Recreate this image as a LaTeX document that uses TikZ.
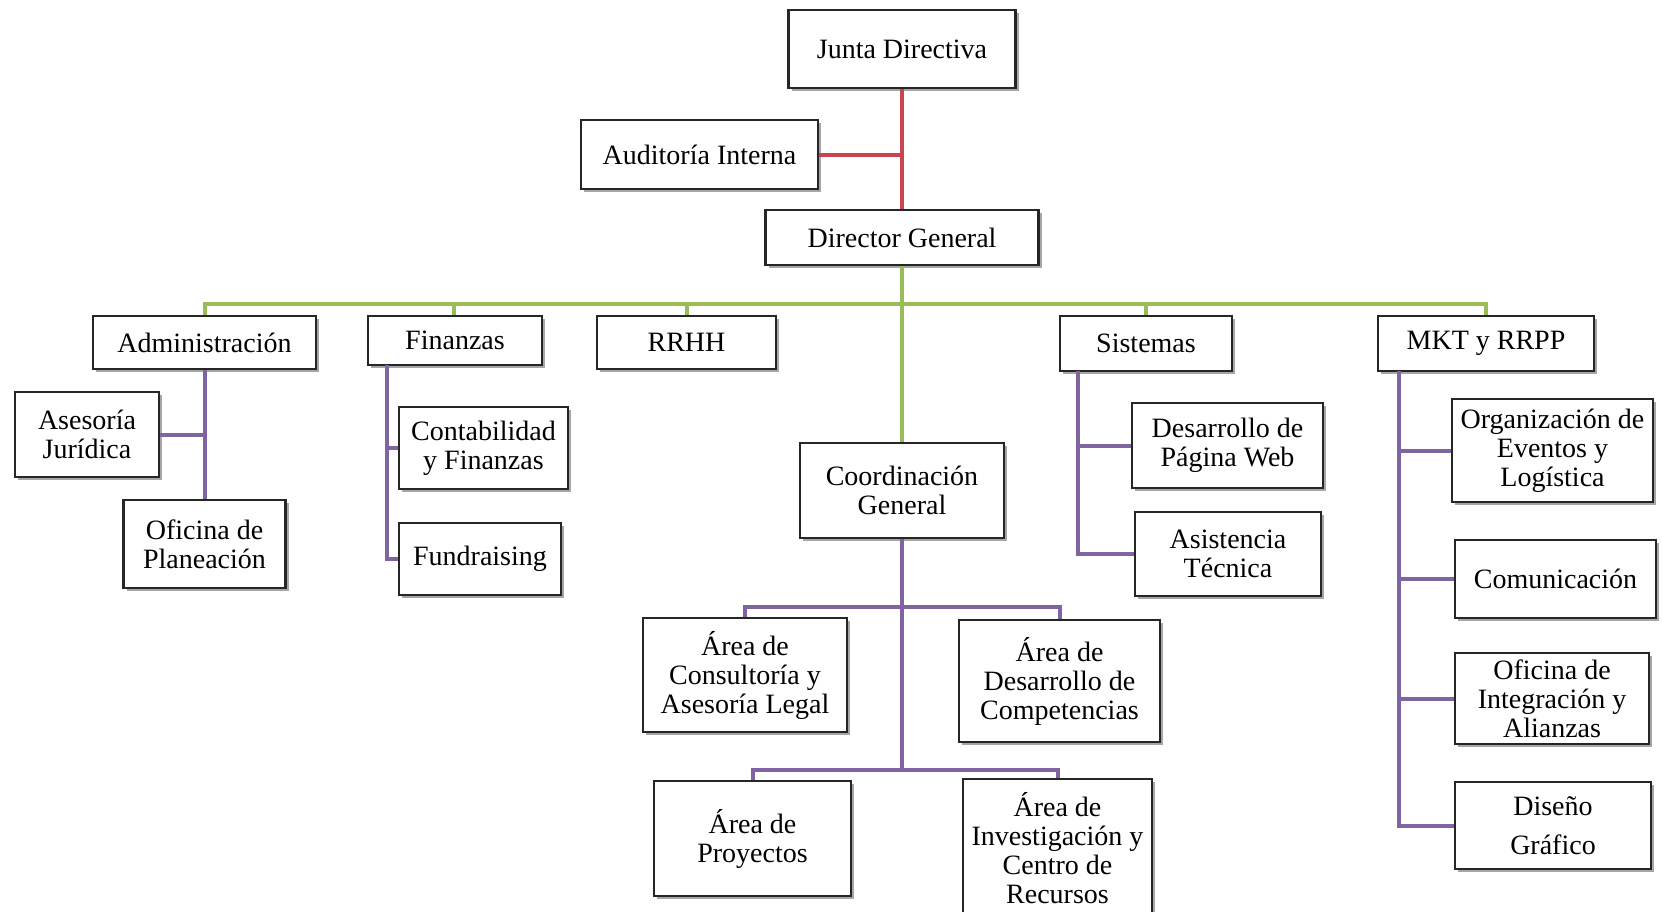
\documentclass[tikz,border=0pt]{standalone}
\usepackage{fontspec}
\setmainfont{Liberation Serif}
\usetikzlibrary{shadows}
\definecolor{rojo}{RGB}{200,70,80}
\definecolor{verde}{RGB}{155,187,89}
\definecolor{morado}{RGB}{128,100,162}
\tikzset{
	caja/.style={draw=black!85, line width=2.6pt, fill=white, align=center,
		inner sep=2pt, font=\fontsize{28}{29}\selectfont,
		drop shadow={shadow xshift=3pt, shadow yshift=-3pt, opacity=0.35, fill=black}},
	lrojo/.style={rojo, line width=4pt},
	lverde/.style={verde, line width=4pt},
	lmorado/.style={morado, line width=4pt}
}
\newcommand{\caja}[5]{\node[caja, minimum width=#4pt, minimum height=#5pt] (#1) at (#2) {#3}}
\newcommand{\rama}[2]{\draw[lmorado] (#1.west) -- (#1.west -| #2)}

\begin{document}
\begin{tikzpicture}[x=1pt, y=-1pt]
\useasboundingbox (0,0) rectangle (1662,911);
%Direction
	\caja{junta}{902,49}{Junta Directiva}{227}{78};
	\caja{audit}{699.5,154.5}{Auditoría Interna}{237}{69};
	\caja{director}{902,237.5}{Director General}{273}{55};
%Departments
	\caja{admin}{204.5,342.5}{Administración}{223}{53};
	\caja{finanzas}{455,340.5}{Finanzas}{174}{49};
	\caja{rrhh}{686.5,342.5}{RRHH}{179}{53};
	\caja{sistemas}{1146,343.5}{Sistemas}{172}{55};
	\caja{mkt}{1486,343.5}{MKT y RRPP}{216}{55};
	\caja{coord}{902,490.5}{Coordinación\\General}{204}{95};
%Units
	\caja{asesoria}{87,434.5}{Asesoría\\Jurídica}{144}{85};
	\caja{oficina}{204.5,544}{Oficina de\\Planeación}{162}{88};
	\caja{contab}{483.5,448}{Contabilidad\\y Finanzas}{169}{82};
	\caja{fundr}{480,559}{Fundraising}{162}{72};
	\caja{web}{1227.5,445.5}{Desarrollo de\\Página Web}{191}{85};
	\caja{asist}{1228,554}{Asistencia\\Técnica}{186}{84};
	\caja{eventos}{1552.5,450.5}{Organización de\\Eventos y\\Logística}{201}{103};
	\caja{comunic}{1555.5,579}{Comunicación}{201}{78};
	\caja{integr}{1552,698.5}{Oficina de\\Integración y\\Alianzas}{194}{91};
	\caja{diseno}{1553,825.5}{Diseño\\[10pt]Gráfico}{196}{87};
	\caja{consult}{745,675}{Área de\\Consultoría y\\Asesoría Legal}{204}{114};
	\caja{compet}{1059.5,681}{Área de\\Desarrollo de\\Competencias}{201}{122};
	\caja{proyec}{752.5,838.5}{Área de\\Proyectos}{197}{115};
	\caja{investig}{1057.5,848}{Área de\\Investigación y\\Centro de\\Recursos}{189}{138};
%Red links
	\draw[lrojo] (junta) -- (director);
	\draw[lrojo] (audit.east) -- (audit.east -| junta.south);
%Green links
	\coordinate (bus) at (902,304);
	\draw[lverde] (director) -- (coord);
	\draw[lverde] (admin.north) |- (bus) -| (mkt.north);
	\draw[lverde] (finanzas.north -| 454,0) -- (bus -| 454,0);
	\draw[lverde] (rrhh.north) -- (bus -| rrhh.north);
	\draw[lverde] (sistemas.north) -- (bus -| sistemas.north);
%Purple links
	\draw[lmorado] (admin) -- (oficina);
	\draw[lmorado] (asesoria.east) -- (asesoria.east -| admin.south);
	\coordinate (finT) at (387,365);
	\draw[lmorado] (finT) |- (fundr.west);
	\rama{contab}{finT};
	\coordinate (sisT) at (1078,371);
	\draw[lmorado] (sisT) |- (asist.west);
	\rama{web}{sisT};
	\coordinate (mktT) at (1399,371);
	\draw[lmorado] (mktT) |- (diseno.west);
	\rama{eventos}{mktT};
	\rama{comunic}{mktT};
	\rama{integr}{mktT};
	\coordinate (bus1) at (902,607);
	\coordinate (bus2) at (902,770);
	\draw[lmorado] (coord.south) -- (bus2);
	\draw[lmorado] (consult.north) |- (bus1) -| (compet.north);
	\draw[lmorado] (proyec.north) |- (bus2) -| (investig.north);
\end{tikzpicture}
\end{document}
